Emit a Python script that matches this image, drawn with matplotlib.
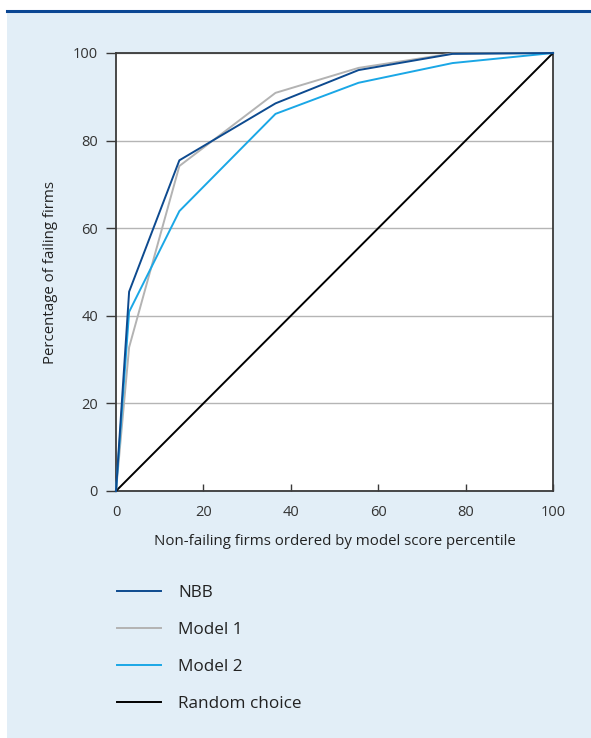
import matplotlib
matplotlib.use('Agg')
import matplotlib.pyplot as plt
from matplotlib.patches import Rectangle
from matplotlib.lines import Line2D

plt.rcParams['font.family'] = ['Open Sans', 'DejaVu Sans']

# percentile of non-failing firms (x) vs percentage of failing firms (y)
nbb_x = [0, 3, 14.5, 36.5, 55.5, 77, 100]
nbb_y = [0, 45.5, 75.5, 88.5, 96.1, 99.8, 100]
model1_x = [0, 3, 14.5, 36.5, 55.5, 77, 100]
model1_y = [0, 32.8, 74.2, 90.9, 96.6, 99.9, 100]
model2_x = [0, 3, 14.5, 36.5, 55.5, 77, 100]
model2_y = [0, 40.9, 63.9, 86.1, 93.2, 97.7, 100]
random_x = [0, 100]
random_y = [0, 100]

labels = ['NBB', 'Model 1', 'Model 2', 'Random choice']
colors = ['#0d4a8f', '#b3b3b3', '#1aa7e6', '#000000']
ticks = [0, 20, 40, 60, 80, 100]

W, H = 591, 738
fig = plt.figure(figsize=(W / 100, H / 100), dpi=100)
fig.patch.set_facecolor('white')

# light blue panel with dark blue top rule
fig.patches.append(Rectangle((7 / W, 0), 1 - 7 / W, 1 - 11 / H,
                             transform=fig.transFigure, facecolor='#e2eef7',
                             edgecolor='none', zorder=-10))
fig.lines.append(Line2D([7 / W, 1], [1 - 11 / H, 1 - 11 / H],
                        transform=fig.transFigure, color='#0a4693', lw=2.2,
                        zorder=-5))

ax = fig.add_axes([116 / W, 1 - 491 / H, (553 - 116) / W, (491 - 53) / H])
ax.set_facecolor('white')
ax.set_zorder(1)

series = [(nbb_x, nbb_y), (model1_x, model1_y), (model2_x, model2_y),
          (random_x, random_y)]
order = [3, 1, 2, 0]
handles = [None] * 4
for i in order:
    xs, ys = series[i]
    h, = ax.plot(xs, ys, color=colors[i], lw=1.4, zorder=3 + (i == 0),
                 clip_on=False)
    handles[i] = h

ax.set_xlim(0, 100)
ax.set_ylim(0, 100)
ax.set_xticks(ticks)
ax.set_yticks(ticks)
ax.grid(axis='y', color='#b5b5b5', lw=1)
ax.set_axisbelow(True)
for s in ax.spines.values():
    s.set_color('#3a3a3a')
    s.set_linewidth(1.3)
ax.tick_params(axis='x', direction='in', length=5, width=1, color='#3a3a3a',
               labelsize=10.5, labelcolor='#333333', pad=10)
ax.tick_params(axis='y', direction='out', length=7, width=1, color='#3a3a3a',
               labelsize=10.5, labelcolor='#333333', pad=6)
ax.set_xlabel('Non-failing firms ordered by model score percentile',
              fontsize=10.8, color='#222222', labelpad=10)
ax.set_ylabel('Percentage of failing firms', fontsize=10.8, color='#222222',
              labelpad=11)

fig.legend(handles, labels, loc='upper left',
           bbox_to_anchor=(102 / W, 1 - 570 / H), frameon=False,
           fontsize=12.3, labelcolor='#222222', handlelength=2.57,
           handletextpad=1.0, labelspacing=1.22)

fig.savefig('out.png', dpi=100)
